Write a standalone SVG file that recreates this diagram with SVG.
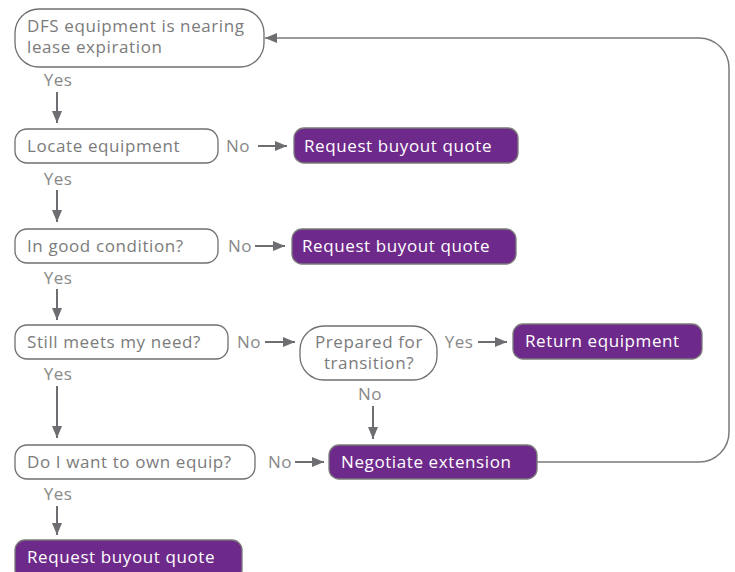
<svg xmlns="http://www.w3.org/2000/svg" width="735" height="572" viewBox="0 0 735 572">
<defs>
<marker id="ah" viewBox="0 0 12 10" refX="12" refY="5" markerWidth="12" markerHeight="10" markerUnits="userSpaceOnUse" orient="auto">
<path d="M0,0 L12,5 L0,10 Z" fill="#6d6d72"/>
</marker>
<style>
.q{fill:#fff;stroke:#6f6f6f;stroke-width:1.3}
.p{fill:#6e2a8b;stroke:#7a7a7a;stroke-width:1.3}
.t{font-family:"Open Sans","Liberation Sans",sans-serif;font-size:17px;letter-spacing:0.6px;fill:#7b7b7b}
.w{font-family:"Open Sans","Liberation Sans",sans-serif;font-size:17px;letter-spacing:0.6px;fill:#fff}
.c{stroke:#6d6d72;stroke-width:2;fill:none}
.l{font-family:"Open Sans","Liberation Sans",sans-serif;font-size:17px;letter-spacing:0.5px;fill:#888}
</style>
</defs>
<rect width="735" height="572" fill="#fff"/>
<g id="connectors">
<line class="c" x1="57" y1="92" x2="57" y2="123" marker-end="url(#ah)"/>
<line class="c" x1="258" y1="146" x2="287" y2="146" marker-end="url(#ah)"/>
<line class="c" x1="57" y1="190" x2="57" y2="222" marker-end="url(#ah)"/>
<line class="c" x1="255" y1="246" x2="285" y2="246" marker-end="url(#ah)"/>
<line class="c" x1="57" y1="289" x2="57" y2="320" marker-end="url(#ah)"/>
<line class="c" x1="265" y1="342" x2="295" y2="342" marker-end="url(#ah)"/>
<line class="c" x1="478" y1="342" x2="507" y2="342" marker-end="url(#ah)"/>
<line class="c" x1="373" y1="406" x2="373" y2="439" marker-end="url(#ah)"/>
<line class="c" x1="57" y1="386" x2="57" y2="438" marker-end="url(#ah)"/>
<line class="c" x1="295" y1="462" x2="324" y2="462" marker-end="url(#ah)"/>
<line class="c" x1="57" y1="506" x2="57" y2="535" marker-end="url(#ah)"/>
<path d="M537,462 H699 A30,30 0 0 0 729,432 V68 A30,30 0 0 0 699,38 H265" fill="none" stroke="#7a7a7a" stroke-width="1.5" marker-end="url(#ah)"/>
<text class="l" x="58" y="86" text-anchor="middle">Yes</text>
<text class="l" x="238" y="152" text-anchor="middle">No</text>
<text class="l" x="58" y="185" text-anchor="middle">Yes</text>
<text class="l" x="240" y="252" text-anchor="middle">No</text>
<text class="l" x="58" y="284" text-anchor="middle">Yes</text>
<text class="l" x="249" y="348" text-anchor="middle">No</text>
<text class="l" x="459" y="348" text-anchor="middle">Yes</text>
<text class="l" x="370" y="400" text-anchor="middle">No</text>
<text class="l" x="58" y="380" text-anchor="middle">Yes</text>
<text class="l" x="280" y="468" text-anchor="middle">No</text>
<text class="l" x="58" y="500" text-anchor="middle">Yes</text>
</g>
<g id="n1"><rect class="q" x="15" y="9" width="249" height="58" rx="24"/>
<text class="t" x="27" y="32">DFS equipment is nearing</text>
<text class="t" x="27" y="53">lease expiration</text></g>
<g id="n2"><rect class="q" x="15" y="129" width="203" height="34" rx="12"/>
<text class="t" x="27" y="152">Locate equipment</text></g>
<g id="n3"><rect class="p" x="294" y="128" width="224" height="35" rx="10"/>
<text class="w" x="304" y="152">Request buyout quote</text></g>
<g id="n4"><rect class="q" x="15" y="229" width="203" height="34" rx="12"/>
<text class="t" x="27" y="252">In good condition?</text></g>
<g id="n5"><rect class="p" x="292" y="229" width="224" height="35" rx="10"/>
<text class="w" x="302" y="252">Request buyout quote</text></g>
<g id="n6"><rect class="q" x="15" y="325" width="213" height="34" rx="12"/>
<text class="t" x="27" y="348">Still meets my need?</text></g>
<g id="n7"><rect class="q" x="300" y="326" width="137" height="54" rx="24"/>
<text class="t" x="369" y="348" text-anchor="middle">Prepared for</text>
<text class="t" x="369" y="369" text-anchor="middle">transition?</text></g>
<g id="n8"><rect class="p" x="513" y="324" width="189" height="35" rx="10"/>
<text class="w" x="525" y="347">Return equipment</text></g>
<g id="n9"><rect class="q" x="15" y="445" width="240" height="34" rx="12"/>
<text class="t" x="27" y="468">Do I want to own equip?</text></g>
<g id="n10"><rect class="p" x="329" y="445" width="208" height="34" rx="10"/>
<text class="w" x="341" y="468">Negotiate extension</text></g>
<g id="n11"><rect class="p" x="15" y="540" width="227" height="40" rx="10"/>
<text class="w" x="27" y="563">Request buyout quote</text></g>
</svg>
